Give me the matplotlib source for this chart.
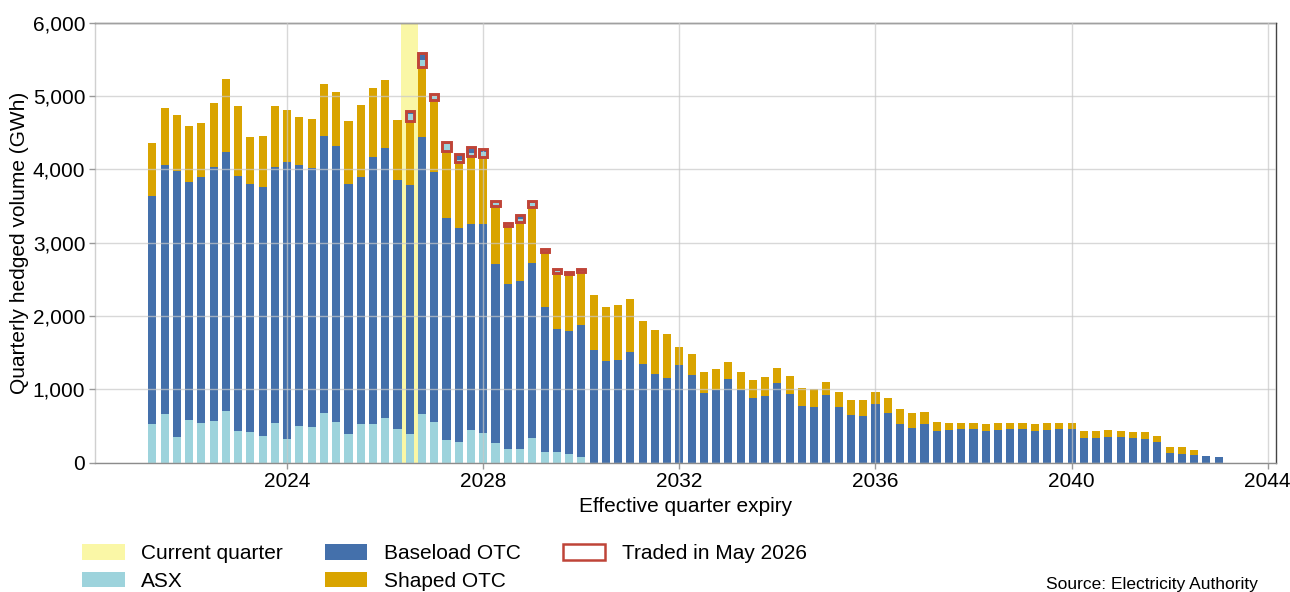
import numpy as np
import matplotlib
matplotlib.use("Agg")
import matplotlib.pyplot as plt
from matplotlib.patches import Patch
from matplotlib.ticker import FuncFormatter

# quarterly data, first quarter expires 2021 Q1, 88 quarters
first_quarter = 2021.25
asx_top = [526, 658, 354, 580, 544, 571, 703, 431, 417, 358, 544, 327, 499, 490, 671,
           549, 385, 526, 526, 612, 458, 385, 658, 558, 304, 286, 444, 399, 268, 181,
           186, 336, 141, 145, 122, 77] + [0] * 52
base_top = [3642, 4059, 3977, 3832, 3900, 4032, 4231, 3914, 3805, 3760, 4032, 4104, 4059,
            4018, 4458, 4317, 3796, 3900, 4172, 4290, 3855, 3782, 4435, 3968, 3342, 3206,
            3261, 3261, 2716, 2431, 2476, 2726, 2127, 1823, 1800, 1882, 1542, 1388, 1406,
            1515, 1342, 1215, 1156, 1329, 1202, 957, 989, 1143, 998, 884, 916, 1084, 943,
            771, 753, 930, 762, 644, 639, 800, 680, 531, 467, 526, 431, 444, 453, 453, 431,
            440, 453, 453, 431, 440, 453, 453, 336, 340, 349, 349, 336, 327, 281, 127, 113,
            109, 86, 77]
total_top = [4363, 4843, 4748, 4589, 4635, 4902, 5229, 4861, 4444, 4458, 4861, 4816, 4716,
             4689, 5161, 5052, 4662, 4875, 5115, 5215, 4676, 4660, 5400, 4940, 4250, 4100,
             4180, 4165, 3505, 3230, 3285, 3487, 2877, 2586, 2570, 2600, 2281, 2127, 2154,
             2227, 1927, 1814, 1755, 1583, 1483, 1243, 1274, 1374, 1243, 1129, 1170, 1297,
             1184, 1025, 1011, 1097, 966, 857, 857, 968, 880, 739, 680, 694, 558, 540, 545,
             540, 526, 540, 545, 540, 526, 540, 545, 540, 426, 431, 444, 431, 422, 417, 367,
             218, 209, 168, 86, 77]

# traded in May 2026, from the 2026 Q2 expiry onwards
traded_start = 21
traded_asx = [90, 85, 70, 95, 30, 45, 70, 45, 20, 45, 50, 20, 25, 20, 20]
traded_base = [45, 100, 20, 25, 85, 85, 45, 25, 25, 45, 25, 20, 30, 15, 20]

current_quarter = 2026.5

c_asx = "#9dd3dc"
c_base = "#4470ab"
c_shaped = "#d9a400"
c_current = "#faf7a6"
c_red = "#bf4438"

plt.rcParams["font.family"] = ["Liberation Sans", "DejaVu Sans"]
plt.rcParams["font.size"] = 15

asx = np.array(asx_top, dtype=float)
base = np.array(base_top, dtype=float) - asx
shaped = np.array(total_top, dtype=float) - np.array(base_top, dtype=float)
x = first_quarter + 0.25 * np.arange(len(asx))
w = 0.165

fig = plt.figure(figsize=(12.9, 5.92), dpi=100)
ax = fig.add_axes([95 / 1290, 1 - 462.7 / 592, (1276 - 95) / 1290, 440 / 592])

ax.axvspan(current_quarter - 0.17, current_quarter + 0.16, color=c_current, zorder=0, lw=0)

ax.bar(x, asx, w, color=c_asx, zorder=1)
ax.bar(x, base, w, bottom=asx, color=c_base, zorder=1)
ax.bar(x, shaped, w, bottom=asx + base, color=c_shaped, zorder=1)

tx = x[traded_start:traded_start + len(traded_asx)]
t_bottom = np.array(total_top[traded_start:traded_start + len(traded_asx)], dtype=float)
t_asx = np.array(traded_asx, dtype=float)
t_base = np.array(traded_base, dtype=float)
ax.bar(tx, t_asx, w, bottom=t_bottom, color=c_asx, zorder=2)
ax.bar(tx, t_base, w, bottom=t_bottom + t_asx, color=c_base, zorder=2)
ax.bar(tx, t_asx + t_base, w, bottom=t_bottom, facecolor="none",
       edgecolor=c_red, linewidth=2.1, zorder=3)

ax.set_xlim(2020.08, 2044.17)
ax.set_ylim(0, 6000)
ax.set_xticks(range(2024, 2045, 4))
ax.set_yticks(range(0, 6001, 1000))
ax.yaxis.set_major_formatter(FuncFormatter(lambda v, p: f"{v:,.0f}"))
ax.grid(True, color="#c8c8c8", alpha=0.7, linewidth=1)
ax.set_axisbelow(False)
ax.tick_params(length=4, width=1, color="#999999", pad=3, labelsize=15)

ax.spines["top"].set_color("#444444")
ax.spines["right"].set_color("#444444")
ax.spines["left"].set_color("#d0d0d0")
ax.spines["bottom"].set_color("#8c8c8c")
for s in ax.spines.values():
    s.set_linewidth(1)

ax.set_xlabel("Effective quarter expiry", fontsize=15, labelpad=4)
ax.set_ylabel("Quarterly hedged volume (GWh)", fontsize=15, labelpad=3)

handles = [
    Patch(facecolor=c_current, label="Current quarter"),
    Patch(facecolor=c_asx, label="ASX"),
    Patch(facecolor=c_base, label="Baseload OTC"),
    Patch(facecolor=c_shaped, label="Shaped OTC"),
    Patch(facecolor="white", edgecolor=c_red, linewidth=1.8, label="Traded in May 2026"),
]
fig.legend(handles=handles, ncol=3, loc="upper left", bbox_to_anchor=(82 / 1290, 1 - 544 / 592),
           frameon=False, fontsize=15, handlelength=2.05, handleheight=0.8,
           handletextpad=0.8, columnspacing=2.0, labelspacing=0.4, borderpad=0,
           borderaxespad=0)

fig.text(1258 / 1290, 1 - 585 / 592, "Source: Electricity Authority", ha="right",
         va="center", fontsize=12.5)

fig.savefig("out.png", dpi=100)
